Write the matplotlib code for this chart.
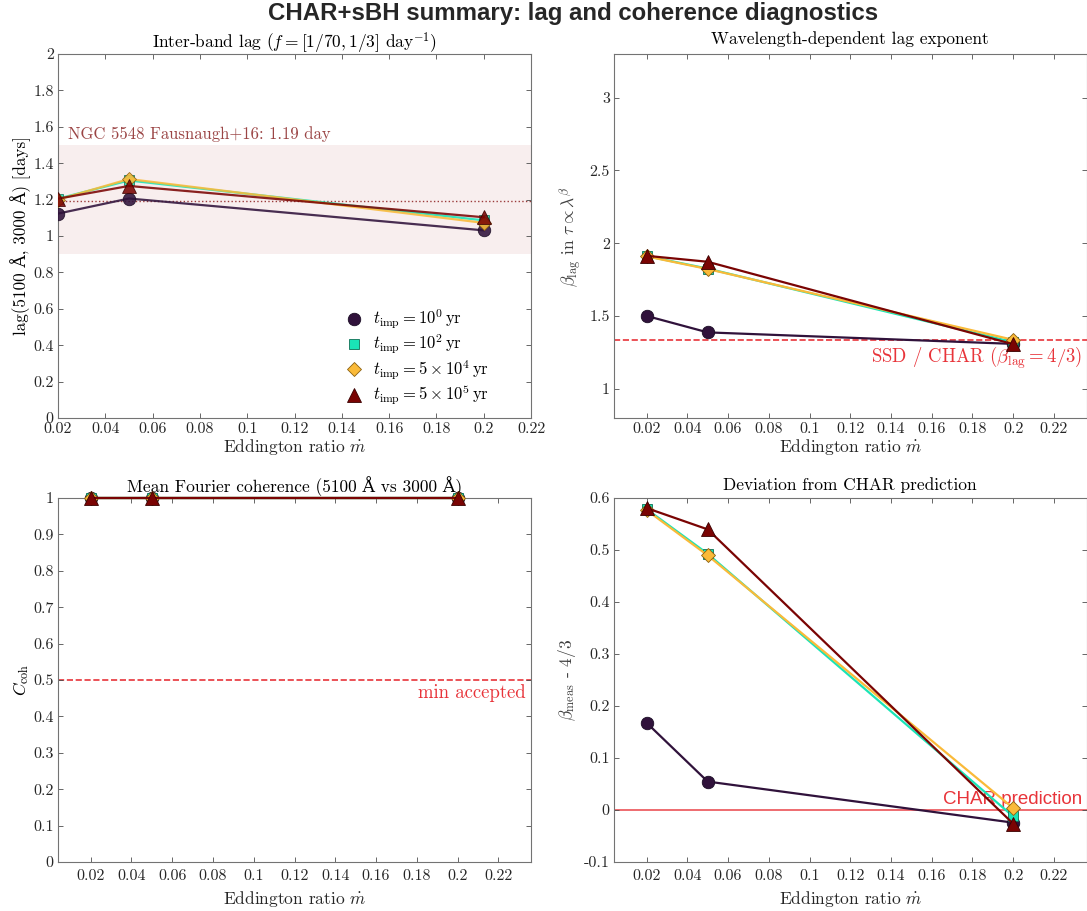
import numpy as np
import matplotlib
matplotlib.use("Agg")
import matplotlib.pyplot as plt
from matplotlib.lines import Line2D
from matplotlib.ticker import FuncFormatter, MultipleLocator

plt.rcParams['font.family'] = ['cmr10', 'DejaVu Serif']
plt.rcParams['mathtext.fontset'] = 'cm'
plt.rcParams['axes.unicode_minus'] = False

# data
mdot = [0.02, 0.05, 0.2]
labels = [r'$t_{\rm imp} = 10^{0}\,\mathrm{yr}$',
          r'$t_{\rm imp} = 10^{2}\,\mathrm{yr}$',
          r'$t_{\rm imp} = 5\times10^{4}\,\mathrm{yr}$',
          r'$t_{\rm imp} = 5\times10^{5}\,\mathrm{yr}$']
lag = [[1.123, 1.206, 1.031],
       [1.205, 1.305, 1.086],
       [1.200, 1.313, 1.072],
       [1.205, 1.275, 1.103]]
beta = [[1.501, 1.388, 1.309],
        [1.912, 1.826, 1.321],
        [1.910, 1.823, 1.337],
        [1.914, 1.873, 1.307]]
coh = [[1.0, 1.0, 1.0],
       [1.0, 1.0, 1.0],
       [1.0, 1.0, 1.0],
       [1.0, 1.0, 1.0]]
ngc_lag = 1.19
ngc_band = (0.9, 1.5)
beta_char = 4 / 3
coh_min = 0.5

cmap = plt.get_cmap('turbo')
colors = [cmap(0.0), cmap(1 / 3), cmap(2 / 3), cmap(1.0)]
edges = ['#1a0c24', '#0e6f55', '#8a6010', '#3a0000']
markers = ['o', 's', 'D', '^']
msizes = [9, 6.5, 7, 9.5]

W, H = 1087, 911
fig = plt.figure(figsize=(W / 100, H / 100), dpi=100)


def box(l, t, r, b):
    return [l / W, 1 - b / H, (r - l) / W, (b - t) / H]


ax_lag = fig.add_axes(box(58, 54, 531, 418))
ax_beta = fig.add_axes(box(614, 54, 1086.5, 418))
ax_coh = fig.add_axes(box(58, 498, 531, 862))
ax_dev = fig.add_axes(box(614, 498, 1086.5, 862))

fmt = FuncFormatter(lambda v, p: '%g' % round(v, 6))
red = '#e8343a'
TICK = 11.5
LAB = 12.5
TIT = 12.5


def style(ax, bottom_row=False):
    for s in ax.spines.values():
        s.set_color('0.45')
        s.set_linewidth(0.8)
    ax.tick_params(direction='in', top=True, right=True, length=3.5,
                   width=0.6, color='0.3', labelsize=TICK, labelcolor='#262626',
                   pad=3)
    if bottom_row:
        ax.tick_params(axis='x', pad=5)
    ax.xaxis.set_major_locator(MultipleLocator(0.02))
    ax.xaxis.set_major_formatter(fmt)
    ax.yaxis.set_major_formatter(fmt)
    ax.set_xlabel(r'Eddington ratio $\dot{m}$', fontsize=LAB, color='#262626',
                  labelpad=4.5 if bottom_row else 1)


def draw(ax, vals, alpha=1.0, clip=True):
    for i in range(4):
        ax.plot(mdot, vals[i], '-', color=colors[i], lw=1.6, marker=markers[i],
                ms=msizes[i], mfc=colors[i], mec=edges[i], mew=0.6,
                alpha=alpha, clip_on=clip, zorder=3 + i)


# inter-band lag
ax = ax_lag
ax.axhspan(ngc_band[0], ngc_band[1], color='#f8eeee', zorder=0, lw=0)
ax.axhline(ngc_lag, color='#9b3b3b', ls=':', lw=1.0, zorder=1)
ax.text(0.0241, 1.56, 'NGC 5548 Fausnaugh+16: 1.19 day', color='#9b4545',
        fontsize=12, va='center', ha='left')
draw(ax, lag, alpha=0.88)
ax.set_xlim(0.02, 0.22)
ax.set_ylim(0, 2)
ax.yaxis.set_major_locator(MultipleLocator(0.2))
style(ax)
ax.set_title(r'Inter-band lag ($f = [1/70, 1/3]$ day$^{-1}$)', fontsize=TIT,
             pad=4)
ax.set_ylabel(r'lag(5100 Å, 3000 Å) [days]', fontsize=12.3, labelpad=2)
handles = [Line2D([], [], ls='none', marker=markers[i], ms=msizes[i],
                  mfc=colors[i], mec=edges[i], mew=0.6) for i in range(4)]
ax.legend(handles, labels, loc='center', bbox_to_anchor=(0.755, 0.166),
          frameon=False, fontsize=12, handletextpad=0.35, labelspacing=0.1,
          handlelength=1.5)

# lag exponent
ax = ax_beta
ax.axhline(beta_char, color=red, ls='--', lw=1.2, zorder=1)
ax.text(0.2337, beta_char - 0.03,
        r'SSD / CHAR ($\beta_{\rm lag} = 4/3$)', color=red, fontsize=13.5,
        ha='right', va='top', zorder=1)
draw(ax, beta)
ax.set_xlim(0.004, 0.236)
ax.set_ylim(0.8, 3.3)
ax.yaxis.set_major_locator(MultipleLocator(0.5))
style(ax)
ax.set_title('Wavelength-dependent lag exponent', fontsize=TIT, pad=7)
ax.set_ylabel(r'$\beta_{\rm lag}$ in $\tau \propto \lambda^{\beta}$',
              fontsize=LAB, color='#404040', labelpad=4)

# coherence
ax = ax_coh
ax.axhline(coh_min, color=red, ls='--', lw=1.2, zorder=1)
ax.text(0.2333, coh_min - 0.012, 'min accepted', color=red, fontsize=13.5,
        ha='right', va='top')
draw(ax, coh, clip=False)
ax.set_xlim(0.004, 0.236)
ax.set_ylim(0, 1)
ax.yaxis.set_major_locator(MultipleLocator(0.1))
style(ax, bottom_row=True)
ax.set_title('Mean Fourier coherence (5100 Å vs 3000 Å)', fontsize=TIT,
             pad=4)
ax.set_ylabel(r'$C_{\rm coh}$', fontsize=LAB, labelpad=2)

# deviation from CHAR
dev = [[b - beta_char for b in row] for row in beta]
ax = ax_dev
ax.axhline(0, color=red, ls='-', lw=1.2, alpha=0.85, zorder=1)
ax.text(0.2337, 0.004, 'CHAR prediction', color=red, fontsize=13.5,
        family='Liberation Sans', ha='right', va='bottom', zorder=1)
draw(ax, dev)
ax.set_xlim(0.004, 0.236)
ax.set_ylim(-0.1, 0.6)
ax.yaxis.set_major_locator(MultipleLocator(0.1))
style(ax, bottom_row=True)
ax.set_title('Deviation from CHAR prediction', fontsize=TIT, pad=6)
ax.set_ylabel(r'$\beta_{\rm meas}$ - 4/3', fontsize=LAB, color='#404040',
              labelpad=4)

fig.suptitle('CHAR+sBH summary: lag and coherence diagnostics',
             fontsize=17.3, fontweight='bold', family='Liberation Sans',
             color='#262626', x=0.527, y=0.998)

fig.savefig('out.png', dpi=100)
